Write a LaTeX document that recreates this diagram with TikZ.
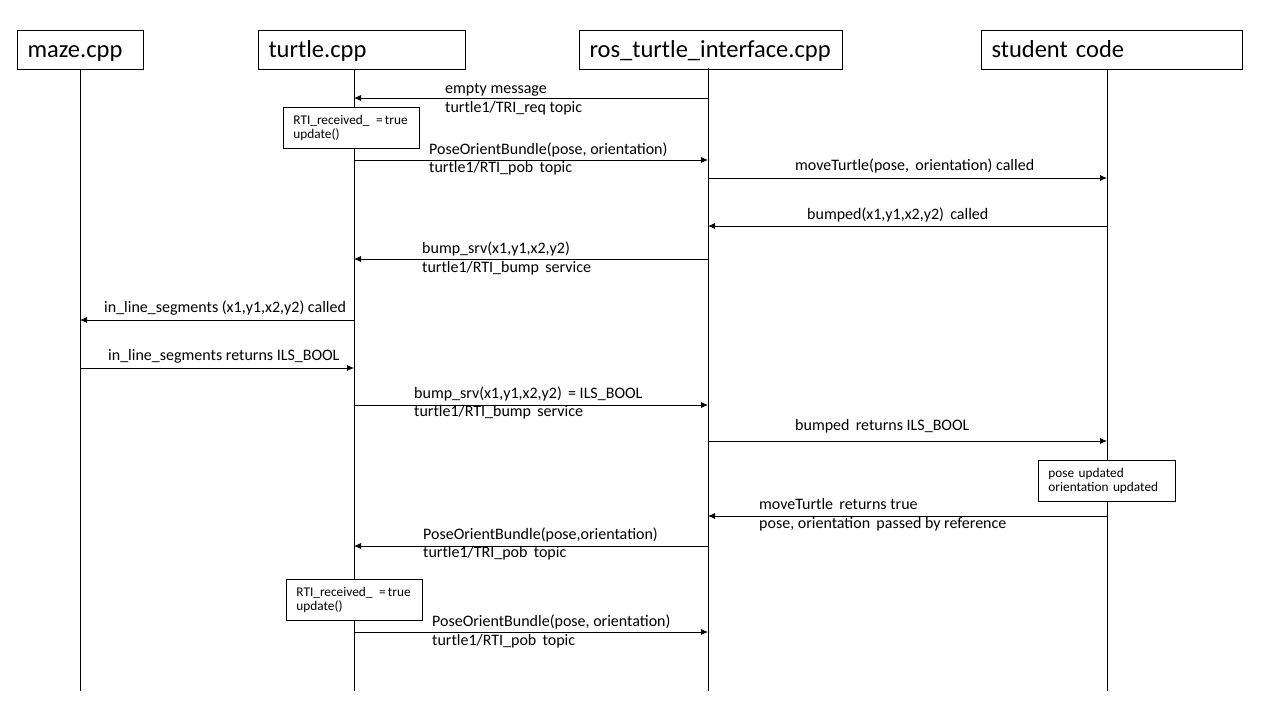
\documentclass[tikz,border=0pt]{standalone}
\usepackage{fontspec}
\setmainfont{Carlito}
\usepackage{tikz}
\usetikzlibrary{arrows.meta, calc}

\begin{document}
\begin{tikzpicture}[
    x=1pt, y=-1pt,
    header/.style={rectangle, draw, line width=1pt, anchor=north west, minimum height=39pt, inner xsep=10pt, inner ysep=0pt, text height=17pt, text depth=3pt, align=left, font=\fontsize{24.5}{28}\selectfont},
    note/.style={rectangle, draw, fill=white, line width=0.9pt, anchor=north west, minimum height=41pt, inner xsep=10pt, align=left, font=\fontsize{13.3}{14}\selectfont},
    lifeline/.style={line width=1pt},
    msg/.style={-{Latex[length=7pt, width=6pt]}, line width=0.8pt},
    msgtext/.style={anchor=base west, inner sep=0pt, font=\fontsize{16}{18}\selectfont}
]
    \useasboundingbox (0,0) rectangle (1280,720);

    % Headers
    \node[header, text width=106pt] (maze) at (17,30) {maze.cpp};
    \node[header, text width=187pt] (turtle) at (258,30) {turtle.cpp};
    \node[header, text width=243pt] (ros) at (579,30) {ros\_turtle\_interface.cpp};
    \node[header, text width=241pt] (student) at (981,30) {student code};

    % Lifelines
    \coordinate (mazeTop) at (80,69);
    \coordinate (turtleTop) at (354,69);
    \coordinate (rosTop) at (708,68);
    \coordinate (studentTop) at (1107,69);
    \coordinate (bottom) at (0,691);
    \draw[lifeline] (mazeTop) -- (mazeTop |- bottom);
    \draw[lifeline] (turtleTop) -- (turtleTop |- bottom);
    \draw[lifeline] (rosTop) -- (rosTop |- bottom);
    \draw[lifeline] (studentTop) -- (studentTop |- bottom);

    % Message rows
    \foreach \n/\y in {1/98, 2/160, 3/178, 4/226, 5/259, 6/320, 7/368, 8/405, 9/441, 10/516, 11/546, 12/632}
        \coordinate (m\n) at (0,\y);

    % Notes
    \node[note, text width=116pt] (rti1) at (283,107) {RTI\_received\_ \,=\,true\\update()};
    \node[note, text width=117pt] (upd) at (1038,460) {pose updated\\orientation updated};
    \node[note, text width=116pt] (rti2) at (286,579) {RTI\_received\_ \,=\,true\\update()};

    % Messages
    \draw[msg] (rosTop |- m1) -- (turtleTop |- m1);
    \node[msgtext] (t1a) at (445,93) {empty message};
    \node[msgtext] (t1b) at (445,112) {turtle1/TRI\_req topic};

    \draw[msg] (turtleTop |- m2) -- (rosTop |- m2);
    \node[msgtext] (t2a) at (429,154) {PoseOrientBundle(pose, orientation)};
    \node[msgtext] (t2b) at (429,172) {turtle1/RTI\_pob\, topic};

    \draw[msg] (rosTop |- m3) -- (studentTop |- m3);
    \node[msgtext] (t3) at (795,170) {moveTurtle(pose,\, orientation) called};

    \draw[msg] (studentTop |- m4) -- (rosTop |- m4);
    \node[msgtext] (t4) at (807,219) {bumped(x1,y1,x2,y2)\, called};

    \draw[msg] (rosTop |- m5) -- (turtleTop |- m5);
    \node[msgtext] (t5a) at (422,253) {bump\_srv(x1,y1,x2,y2)};
    \node[msgtext] (t5b) at (422,272) {turtle1/RTI\_bump\, service};

    \draw[msg] (turtleTop |- m6) -- (mazeTop |- m6);
    \node[msgtext] (t6) at (104,312) {in\_line\_segments (x1,y1,x2,y2) called};

    \draw[msg] (mazeTop |- m7) -- (turtleTop |- m7);
    \node[msgtext] (t7) at (108,360) {in\_line\_segments returns ILS\_BOOL};

    \draw[msg] (turtleTop |- m8) -- (rosTop |- m8);
    \node[msgtext] (t8a) at (414,398) {bump\_srv(x1,y1,x2,y2)\, = ILS\_BOOL};
    \node[msgtext] (t8b) at (414,416) {turtle1/RTI\_bump\, service};

    \draw[msg] (rosTop |- m9) -- (studentTop |- m9);
    \node[msgtext] (t9) at (795,430) {bumped\, returns ILS\_BOOL};

    \draw[msg] (studentTop |- m10) -- (rosTop |- m10);
    \node[msgtext] (t10a) at (759,509) {moveTurtle\, returns true};
    \node[msgtext] (t10b) at (759,528) {pose, orientation\, passed by reference};

    \draw[msg] (rosTop |- m11) -- (turtleTop |- m11);
    \node[msgtext] (t11a) at (423,539) {PoseOrientBundle(pose,orientation)};
    \node[msgtext] (t11b) at (423,557) {turtle1/TRI\_pob\, topic};

    \draw[msg] (turtleTop |- m12) -- (rosTop |- m12);
    \node[msgtext] (t12a) at (432,626) {PoseOrientBundle(pose, orientation)};
    \node[msgtext] (t12b) at (432,645) {turtle1/RTI\_pob\, topic};

\end{tikzpicture}
\end{document}
